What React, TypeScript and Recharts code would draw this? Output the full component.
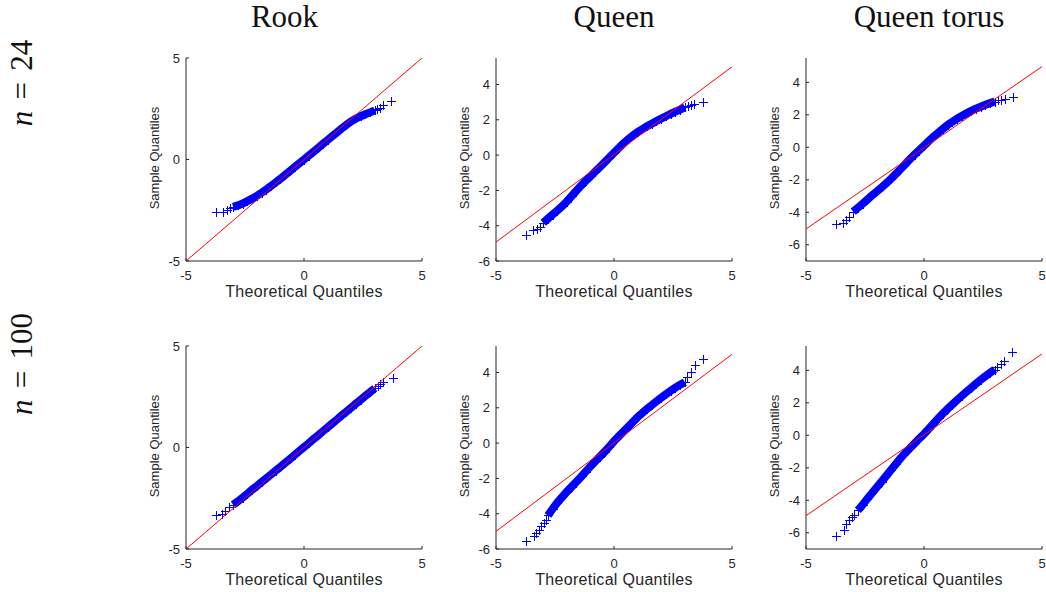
import React from 'react';
import { ScatterChart, Scatter, XAxis, YAxis } from 'recharts';

// theoretical vs sample quantiles
// dense part of each cloud (drawn as a thick band of crosses)
const rook24Band = [
  [-3.0, -2.33], [-2.8, -2.26], [-2.6, -2.17], [-2.4, -2.05], [-2.2, -1.93], [-2.0, -1.79],
  [-1.8, -1.64], [-1.6, -1.48], [-1.4, -1.31], [-1.2, -1.13], [-1.0, -0.95], [-0.8, -0.76],
  [-0.6, -0.57], [-0.4, -0.38], [-0.2, -0.19], [0, 0], [0.2, 0.19], [0.4, 0.38], [0.6, 0.57],
  [0.8, 0.77], [1.0, 0.96], [1.2, 1.15], [1.4, 1.34], [1.6, 1.53], [1.8, 1.71], [2.0, 1.88],
  [2.2, 2.02], [2.4, 2.13], [2.6, 2.23], [2.8, 2.32], [3.0, 2.42],
];
const rook24Tail = [
  [-3.75, -2.59], [-3.44, -2.57], [-3.28, -2.48], [-3.13, -2.4],
  [3.1, 2.5], [3.2, 2.56], [3.34, 2.68], [3.7, 2.89],
];
const rook24Ref = [[-5, -5], [5, 5]];

const queen24Band = [
  [-3.0, -3.83], [-2.8, -3.6], [-2.6, -3.37], [-2.4, -3.14], [-2.2, -2.9], [-2.0, -2.63],
  [-1.8, -2.33], [-1.6, -2.03], [-1.4, -1.74], [-1.2, -1.46], [-1.0, -1.2], [-0.8, -0.94],
  [-0.6, -0.68], [-0.4, -0.41], [-0.2, -0.14], [0, 0.13], [0.2, 0.4], [0.4, 0.66], [0.6, 0.9],
  [0.8, 1.11], [1.0, 1.3], [1.2, 1.47], [1.4, 1.63], [1.6, 1.78], [1.8, 1.93], [2.0, 2.07],
  [2.2, 2.2], [2.4, 2.33], [2.6, 2.46], [2.8, 2.58], [3.0, 2.7],
];
const queen24Tail = [
  [-3.75, -4.55], [-3.42, -4.25], [-3.27, -4.17], [-3.15, -4.05],
  [3.12, 2.8], [3.25, 2.84], [3.4, 2.88], [3.75, 3.02],
];
const queen24Ref = [[-5, -4.93], [5, 5]];

const torus24Band = [
  [-3.0, -3.96], [-2.8, -3.72], [-2.6, -3.47], [-2.4, -3.22], [-2.2, -2.96], [-2.0, -2.72],
  [-1.8, -2.47], [-1.6, -2.21], [-1.4, -1.94], [-1.2, -1.65], [-1.0, -1.35], [-0.8, -1.05],
  [-0.6, -0.74], [-0.4, -0.45], [-0.2, -0.17], [0, 0.1], [0.2, 0.38], [0.4, 0.65], [0.6, 0.9],
  [0.8, 1.14], [1.0, 1.37], [1.2, 1.57], [1.4, 1.76], [1.6, 1.93], [1.8, 2.09], [2.0, 2.24],
  [2.2, 2.38], [2.4, 2.5], [2.6, 2.62], [2.8, 2.72], [3.0, 2.82],
];
const torus24Tail = [
  [-3.75, -4.72], [-3.44, -4.68], [-3.3, -4.47], [-3.16, -4.27],
  [3.12, 2.9], [3.28, 2.93], [3.42, 2.95], [3.77, 3.1],
];
const torus24Ref = [[-5, -5.03], [5, 4.97]];

const rook100Band = [
  [-3.0, -2.82], [-2.8, -2.65], [-2.6, -2.47], [-2.4, -2.28], [-2.2, -2.08], [-2.0, -1.9],
  [-1.8, -1.71], [-1.6, -1.52], [-1.4, -1.33], [-1.2, -1.14], [-1.0, -0.95], [-0.8, -0.76],
  [-0.6, -0.57], [-0.4, -0.37], [-0.2, -0.17], [0, 0.02], [0.2, 0.21], [0.4, 0.41], [0.6, 0.6],
  [0.8, 0.8], [1.0, 0.99], [1.2, 1.19], [1.4, 1.38], [1.6, 1.58], [1.8, 1.77], [2.0, 1.96],
  [2.2, 2.16], [2.4, 2.35], [2.6, 2.54], [2.8, 2.73], [3.0, 2.92],
];
const rook100Tail = [
  [-3.75, -3.31], [-3.47, -3.29], [-3.33, -3.11], [-3.18, -2.95],
  [3.13, 3.05], [3.22, 3.12], [3.34, 3.25], [3.77, 3.44],
];
const rook100Ref = [[-5, -5], [5, 5]];

const queen100Band = [
  [-2.8, -4.1], [-2.6, -3.72], [-2.4, -3.37], [-2.2, -3.06], [-2.0, -2.76], [-1.8, -2.48],
  [-1.6, -2.2], [-1.4, -1.92], [-1.2, -1.62], [-1.0, -1.32], [-0.8, -1.04], [-0.6, -0.77],
  [-0.4, -0.5], [-0.2, -0.2], [0, 0.1], [0.2, 0.38], [0.4, 0.65], [0.6, 0.92], [0.8, 1.2],
  [1.0, 1.47], [1.2, 1.71], [1.4, 1.94], [1.6, 2.15], [1.8, 2.36], [2.0, 2.57], [2.2, 2.77],
  [2.4, 2.96], [2.6, 3.14], [2.8, 3.3], [3.0, 3.45],
];
const queen100Tail = [
  [-3.75, -5.56], [-3.4, -5.27], [-3.3, -5.1], [-3.18, -4.9], [-3.08, -4.7], [-2.98, -4.5], [-2.9, -4.33],
  [3.1, 3.72], [3.25, 4.0], [3.42, 4.4], [3.77, 4.78],
];
const queen100Ref = [[-5, -5], [5, 5.03]];

const torus100Band = [
  [-2.8, -4.62], [-2.6, -4.28], [-2.4, -3.9], [-2.2, -3.55], [-2.0, -3.2], [-1.8, -2.85],
  [-1.6, -2.5], [-1.4, -2.14], [-1.2, -1.78], [-1.0, -1.42], [-0.8, -1.1], [-0.6, -0.8],
  [-0.4, -0.5], [-0.2, -0.2], [0, 0.08], [0.2, 0.4], [0.4, 0.72], [0.6, 1.04], [0.8, 1.34],
  [1.0, 1.63], [1.2, 1.9], [1.4, 2.17], [1.6, 2.43], [1.8, 2.68], [2.0, 2.92], [2.2, 3.17],
  [2.4, 3.42], [2.6, 3.64], [2.8, 3.85], [3.0, 4.05],
];
const torus100Tail = [
  [-3.73, -6.22], [-3.4, -5.81], [-3.3, -5.46], [-3.19, -5.22], [-3.05, -5.05], [-2.95, -4.9],
  [3.1, 4.22], [3.25, 4.38], [3.38, 4.56], [3.73, 5.11],
];
const torus100Ref = [[-5, -4.95], [5, 5.01]];

const xTicks = [-5, 0, 5];
const rookTicks = [-5, 0, 5];
const queenTicks = [-6, -4, -2, 0, 2, 4];

const colTitles = ['Rook', 'Queen', 'Queen torus'];
const rowTitles = ['24', '100'];

const BLUE = '#0000ff';
const RED = '#ff0000';
const AXIS = '#262626';
const SANS = '"Liberation Sans", Arial, Helvetica, sans-serif';
const SERIF = '"Liberation Serif", "Times New Roman", serif';

const PLOT_W = 236;
const PLOT_H = 203;
const Y_AXIS_W = 70;
const COL_LEFT = [186, 496, 806];
const ROW_TOP = [58, 346];
const TITLE_X = [284.5, 614, 929];
const ROW_LABEL_Y = [82.5, 364];

const toPts = (arr: number[][]) => arr.map(([x, y]) => ({ x, y }));

const panels = [
  { band: rook24Band, tail: rook24Tail, ref: rook24Ref, domain: [-5, 5], ticks: rookTicks, col: 0, row: 0 },
  { band: queen24Band, tail: queen24Tail, ref: queen24Ref, domain: [-6, 5.5], ticks: queenTicks, col: 1, row: 0 },
  { band: torus24Band, tail: torus24Tail, ref: torus24Ref, domain: [-7, 5.5], ticks: queenTicks, col: 2, row: 0 },
  { band: rook100Band, tail: rook100Tail, ref: rook100Ref, domain: [-5, 5], ticks: rookTicks, col: 0, row: 1 },
  { band: queen100Band, tail: queen100Tail, ref: queen100Ref, domain: [-6, 5.5], ticks: queenTicks, col: 1, row: 1 },
  { band: torus100Band, tail: torus100Tail, ref: torus100Ref, domain: [-7, 5.5], ticks: queenTicks, col: 2, row: 1 },
];

// '+' marker, snapped to the pixel grid so the 1px strokes stay crisp
const Cross = (props: any) => {
  const { cx, cy } = props;
  if (cx == null || cy == null) return <g />;
  const px = Math.round(cx) + 0.5;
  const py = Math.round(cy) + 0.5;
  return (
    <path
      d={`M${px - 4.5},${py}H${px + 4.5}M${px},${py - 4.5}V${py + 4.5}`}
      stroke={BLUE}
      strokeWidth={1}
      fill="none"
    />
  );
};

const NoShape = () => <g />;

// MATLAB style: ticks point into the axes
const XTick = (props: any) => {
  const { x, y, payload } = props;
  return (
    <g>
      <line x1={x} x2={x} y1={y} y2={y - 3} stroke={AXIS} strokeWidth={1} />
      <text x={x} y={y + 19} textAnchor="middle" fontSize={13} fontFamily={SANS} fill={AXIS}>
        {payload.value}
      </text>
    </g>
  );
};

const YTick = (props: any) => {
  const { x, y, payload } = props;
  return (
    <g>
      <line x1={x} x2={x + 3} y1={y} y2={y} stroke={AXIS} strokeWidth={1} />
      <text x={x - 6} y={y + 4.5} textAnchor="end" fontSize={13} fontFamily={SANS} fill={AXIS}>
        {payload.value}
      </text>
    </g>
  );
};

function QQPanel({ p }: { p: any }) {
  const left = COL_LEFT[p.col];
  const top = ROW_TOP[p.row];
  return (
    <>
      <div style={{ position: 'absolute', left: left - Y_AXIS_W, top: top - 10 }}>
        <ScatterChart
          width={Y_AXIS_W + PLOT_W + 8}
          height={10 + PLOT_H + 50}
          margin={{ top: 10, right: 8, bottom: 0, left: 0 }}
        >
          <XAxis
            type="number"
            dataKey="x"
            domain={[-5, 5]}
            ticks={xTicks}
            interval={0}
            allowDataOverflow
            height={50}
            tickSize={0}
            tickMargin={0}
            tickLine={false}
            axisLine={{ stroke: AXIS, strokeWidth: 1 }}
            tick={<XTick />}
          />
          <YAxis
            type="number"
            dataKey="y"
            domain={p.domain}
            ticks={p.ticks}
            interval={0}
            allowDataOverflow
            width={Y_AXIS_W}
            tickSize={0}
            tickMargin={0}
            tickLine={false}
            axisLine={{ stroke: AXIS, strokeWidth: 1 }}
            tick={<YTick />}
          />
          <Scatter
            data={toPts(p.band)}
            shape={<Cross />}
            line={{ stroke: BLUE, strokeWidth: 8 }}
            lineJointType="linear"
            isAnimationActive={false}
          />
          <Scatter data={toPts(p.tail)} shape={<Cross />} isAnimationActive={false} />
          <Scatter
            data={toPts(p.ref)}
            shape={<NoShape />}
            line={{ stroke: RED, strokeWidth: 1 }}
            lineJointType="linear"
            isAnimationActive={false}
          />
        </ScatterChart>
      </div>
      <div
        style={{
          position: 'absolute',
          left: left + PLOT_W / 2,
          top: top + PLOT_H + 31,
          transform: 'translate(-50%, -50%)',
          fontFamily: SANS,
          fontSize: 16,
          letterSpacing: 0.3,
          color: AXIS,
          whiteSpace: 'nowrap',
          lineHeight: 1,
        }}
      >
        Theoretical Quantiles
      </div>
      <div
        style={{
          position: 'absolute',
          left: left - 32.5,
          top: top + PLOT_H / 2 - 2,
          transform: 'translate(-50%, -50%) rotate(-90deg)',
          fontFamily: SANS,
          fontSize: 13,
          color: AXIS,
          whiteSpace: 'nowrap',
          lineHeight: 1,
        }}
      >
        Sample Quantiles
      </div>
    </>
  );
}

export default function App() {
  return (
    <div
      style={{
        position: 'absolute',
        left: 0,
        top: 0,
        width: 1046,
        height: 592,
        overflow: 'hidden',
        background: '#ffffff',
      }}
    >
      {colTitles.map((t, i) => (
        <div
          key={t}
          style={{
            position: 'absolute',
            left: TITLE_X[i],
            top: 1,
            transform: 'translateX(-50%)',
            fontFamily: SERIF,
            fontSize: 31,
            lineHeight: 1,
            color: '#111',
            whiteSpace: 'nowrap',
          }}
        >
          {t}
        </div>
      ))}
      {rowTitles.map((n, i) => (
        <div
          key={n}
          style={{
            position: 'absolute',
            left: 20.5,
            top: ROW_LABEL_Y[i],
            transform: 'translate(-50%, -50%) rotate(-90deg)',
            fontFamily: SERIF,
            fontSize: 31,
            lineHeight: 1,
            color: '#111',
            whiteSpace: 'nowrap',
          }}
        >
          <i>n</i>
          <span style={{ margin: '0 0.36em' }}>=</span>
          {n}
        </div>
      ))}
      {panels.map((p, i) => (
        <QQPanel key={i} p={p} />
      ))}
    </div>
  );
}
